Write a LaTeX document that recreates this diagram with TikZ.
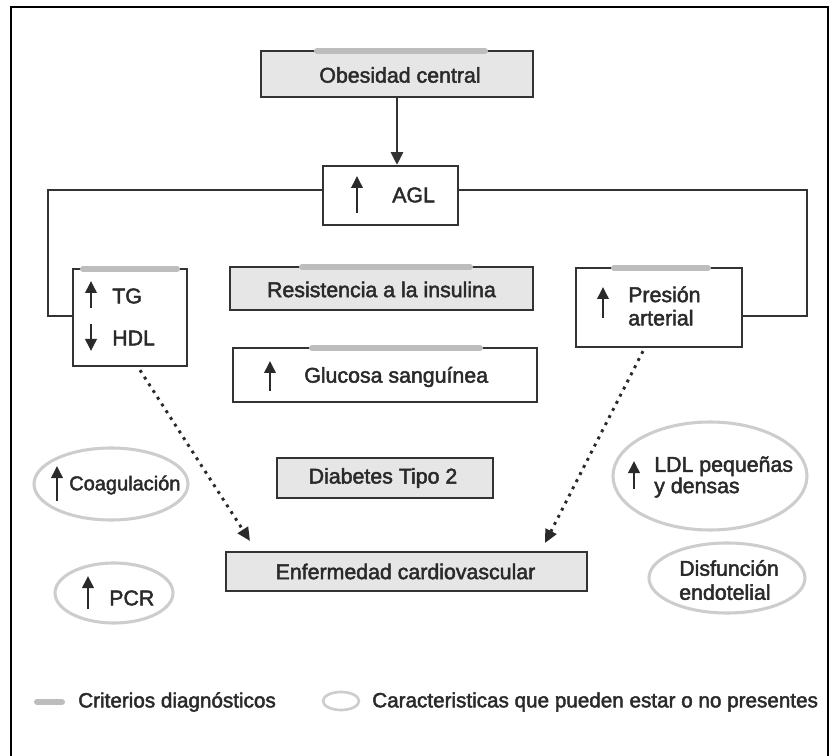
\documentclass[tikz,border=0pt]{standalone}
\usepackage{fontspec}
\setmainfont{Liberation Sans}[FakeBold=2.2]
\usetikzlibrary{arrows.meta,shapes.geometric,fit,calc}
\definecolor{dk}{HTML}{333333}
\definecolor{txt}{HTML}{2A2A2A}
\definecolor{boxgray}{HTML}{E6E6E6}
\definecolor{bargray}{HTML}{BDBDBD}
\definecolor{ovalgray}{HTML}{CDCDCD}
\begin{document}
\begin{tikzpicture}[x=0.75pt,y=-0.75pt,
  box/.style={draw=dk, line width=1.7pt, inner sep=0pt},
  gbox/.style={box, fill=boxgray},
  bar/.style={draw=bargray, line width=4.5pt, line cap=round},
  oval/.style={ellipse, draw=ovalgray, line width=2.3pt, inner sep=0pt},
  lbl/.style={text=txt, inner sep=0pt, font=\fontsize{16}{17.5}\selectfont, align=left},
  upar/.style={draw=txt, line width=1.9pt, -{Triangle[length=9pt,width=8.5pt]}},
  conn/.style={draw=dk, line width=1.7pt},
  arr/.style={conn, -{Triangle[length=9.5pt,width=9pt]}},
  dotarr/.style={draw=txt, line width=2.2pt, dash pattern=on 2.2pt off 3.8pt, -{Triangle[length=10pt,width=9pt]}}
]
\useasboundingbox (0,0) rectangle (833,756);
% frame
\draw[line width=1.1pt, black] (11,770) -- (11,7) -- (828,7) -- (828,770);

% boxes
\node[gbox, fit={(261,51) (533,97)}] (obes) {};
\node[box, fit={(323,166) (458,225)}] (agl) {};
\node[box, fit={(73,269) (187,366)}] (tg) {};
\node[gbox, fit={(230,267) (533,310)}] (res) {};
\node[box, fit={(576,268) (742,347)}] (pres) {};
\node[box, fit={(233,348) (537,402)}] (glu) {};
\node[gbox, fit={(277,458) (493,498)}] (diab) {};
\node[gbox, fit={(226,552) (587,591)}] (enf) {};

% diagnostic bars
\draw[bar] (317,51) -- (485,51);
\draw[bar] (83,269) -- (177,269);
\draw[bar] (302,267) -- (470,267);
\draw[bar] (614,268) -- (708,268);
\draw[bar] (312,348) -- (480,348);

% labels inside boxes
\node[lbl] (tobes) at ($(obes.center)+(3,1)$) {Obesidad central};
\node[lbl] (tres) at ($(res.center)+(0,1)$) {Resistencia a la insulina};
\node[lbl] (tdiab) at ($(diab.center)+(-2,0)$) {Diabetes Tipo 2};
\node[lbl] (tenf) at ($(enf.center)+(-1,0)$) {Enfermedad cardiovascular};
\node[lbl, anchor=west] (tagl) at (392,195) {AGL};
\draw[upar] (357,213) -- (357,176);
\node[lbl, anchor=west] (ttg) at (112,296) {TG};
\draw[upar] (91,308) -- (91,281);
\node[lbl, anchor=west] (thdl) at (112,338) {HDL};
\draw[upar] (91,324) -- (91,351);
\node[lbl, anchor=west] (tpres) at (628,306) {Presión\\arterial};
\draw[upar] (603,318) -- (603,287);
\node[lbl, anchor=west] (tglu) at (304,377) {Glucosa sanguínea};
\draw[upar] (270,391) -- (270,361);

% ovals
\node[oval, minimum width=154*0.75pt, minimum height=72*0.75pt] (coag) at (111,484) {};
\node[lbl, anchor=west, font=\fontsize{15}{17}\selectfont] (tcoag) at (69,485) {Coagulación};
\draw[upar] (57,501) -- (57,466);
\node[oval, minimum width=118*0.75pt, minimum height=60*0.75pt] (pcr) at (114,593) {};
\node[lbl, anchor=west] (tpcr) at (109,598) {PCR};
\draw[upar] (88,609) -- (88,576);
\node[oval, minimum width=194*0.75pt, minimum height=108*0.75pt] (ldl) at (710,476) {};
\node[lbl, anchor=west, font=\fontsize{16}{16}\selectfont] (tldl) at (654,477) {LDL pequeñas\\y densas};
\draw[upar] (634,489) -- (634,461);
\node[oval, minimum width=156*0.75pt, minimum height=70*0.75pt] (disf) at (727,578) {};
\node[lbl, anchor=west, font=\fontsize{16}{18}\selectfont] (tdisf) at (679,580) {Disfunción\\endotelial};

% connectors
\draw[arr] (obes.south) -- (obes.south |- agl.north);
\coordinate (jl1) at (48,190);
\coordinate (jl2) at (48,316);
\coordinate (jr1) at (807,190);
\coordinate (jr2) at (807,316);
\draw[conn] (agl.west |- jl1) -- (jl1) -- (jl2) -- (tg.west |- jl2);
\draw[conn] (agl.east |- jr1) -- (jr1) -- (jr2) -- (pres.east |- jr2);
\coordinate (d1) at (250,541);
\coordinate (d2) at (545,543);
\draw[dotarr] ($(tg.south)+(10,3)$) -- (d1);
\draw[dotarr] ($(pres.south)+(-16,3)$) -- (d2);

% legend
\draw[bar] (37,702) -- (62,702);
\node[lbl, anchor=west, font=\fontsize{15.5}{18}\selectfont] (lg1) at (78,702) {Criterios diagnósticos};
\node[oval, line width=2pt, minimum width=36*0.75pt, minimum height=18*0.75pt] (lgo) at (341,701) {};
\node[lbl, anchor=west, font=\fontsize{15.5}{18}\selectfont] (lg2) at (372,702) {Caracteristicas que pueden estar o no presentes};
\end{tikzpicture}
\end{document}
